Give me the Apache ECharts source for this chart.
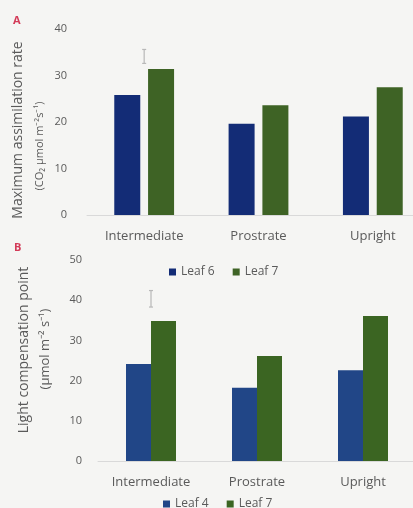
<!DOCTYPE html>
<html>
<head>
<meta charset="utf-8">
<script src="https://cdn.jsdelivr.net/npm/echarts@6/dist/echarts.min.js"></script>
<style>
  html, body { margin: 0; padding: 0; background: #f5f5f3; overflow: hidden; }
  #chart { width: 440px; height: 508px; }
</style>
</head>
<body>
<div id="chart"></div>
<script>
// Plant architecture classes shared by both panels
const categories = ['Intermediate', 'Prostrate', 'Upright'];

// Panel A: maximum assimilation rate (CO2 µmol m-2 s-1)
const assimLeaf6 = [25.8, 19.6, 21.2];
const assimLeaf7 = [31.4, 23.6, 27.5];
const assimErrLow = [32.6, null, null];
const assimErrHigh = [35.6, null, null];
const assimTicks = [0, 10, 20, 30, 40];

// Panel B: light compensation point (µmol m-2 s-1)
const lcpLeaf4 = [24.1, 18.2, 22.6];
const lcpLeaf7 = [34.8, 26.1, 36.1];
const lcpErrLow = [38.3, null, null];
const lcpErrHigh = [42.4, null, null];
const lcpTicks = [0, 10, 20, 30, 40, 50];

const textColor = '#5a5a5a';
const font = 'Open Sans';

function errorBar(xIndex, yIndex, lows, highs) {
  const data = categories.map((c, i) => [i, lows[i], highs[i]]).filter(d => d[1] != null);
  return {
    type: 'custom',
    xAxisIndex: xIndex,
    yAxisIndex: yIndex,
    silent: true,
    z: 5,
    data: data,
    renderItem: function (params, api) {
      const lo = api.coord([api.value(0), api.value(1)]);
      const hi = api.coord([api.value(0), api.value(2)]);
      const cap = 2;
      const style = { stroke: '#b8b8b8', lineWidth: 1.2 };
      return {
        type: 'group',
        children: [
          { type: 'line', shape: { x1: lo[0], y1: lo[1], x2: hi[0], y2: hi[1] }, style },
          { type: 'line', shape: { x1: lo[0] - cap, y1: lo[1], x2: lo[0] + cap, y2: lo[1] }, style },
          { type: 'line', shape: { x1: hi[0] - cap, y1: hi[1], x2: hi[0] + cap, y2: hi[1] }, style }
        ]
      };
    }
  };
}

const catAxis = (gridIndex) => ({
  type: 'category',
  gridIndex: gridIndex,
  data: categories,
  axisTick: { show: false },
  axisLine: { lineStyle: { color: '#d9d9d9', width: 1 } },
  axisLabel: { color: textColor, fontFamily: font, fontSize: 13, margin: 15, interval: 0 }
});

const valAxis = (gridIndex, ticks, margin) => ({
  type: 'value',
  gridIndex: gridIndex,
  min: ticks[0],
  max: ticks[ticks.length - 1],
  interval: ticks[1] - ticks[0],
  axisLine: { show: false },
  axisTick: { show: false },
  splitLine: { show: false },
  axisLabel: { color: textColor, fontFamily: font, fontSize: 11, margin: margin }
});

const chart = echarts.init(document.getElementById('chart'), null, { renderer: 'canvas' });
chart.setOption({
  backgroundColor: '#f5f5f3',
  animation: false,
  grid: [
    { left: 87, top: 29, width: 343, height: 186 },
    { left: 98, top: 260, width: 318, height: 201 }
  ],
  xAxis: [catAxis(0), catAxis(1)],
  yAxis: [valAxis(0, assimTicks, 20), valAxis(1, lcpTicks, 16)],
  legend: [
    {
      data: ['Leaf 6', 'Leaf 7'],
      left: 164, top: 261,
      icon: 'rect', itemWidth: 7, itemHeight: 7, itemGap: 18,
      textStyle: { color: textColor, fontFamily: font, fontSize: 12 }
    },
    {
      data: ['Leaf 4', 'Leaf 7 '],
      left: 158, top: 493,
      icon: 'rect', itemWidth: 7, itemHeight: 7, itemGap: 18,
      formatter: (n) => n.trim(),
      textStyle: { color: textColor, fontFamily: font, fontSize: 12 }
    }
  ],
  series: [
    { name: 'Leaf 6', type: 'bar', xAxisIndex: 0, yAxisIndex: 0, data: assimLeaf6,
      barWidth: 26, barGap: '30%', itemStyle: { color: '#132c76' } },
    { name: 'Leaf 7', type: 'bar', xAxisIndex: 0, yAxisIndex: 0, data: assimLeaf7,
      barWidth: 26, barGap: '30%', itemStyle: { color: '#3e6325' } },
    { name: 'Leaf 4', type: 'bar', xAxisIndex: 1, yAxisIndex: 1, data: lcpLeaf4,
      barWidth: 25, barGap: '0%', itemStyle: { color: '#214687' } },
    { name: 'Leaf 7 ', type: 'bar', xAxisIndex: 1, yAxisIndex: 1, data: lcpLeaf7,
      barWidth: 25, barGap: '0%', itemStyle: { color: '#3b6522' } },
    errorBar(0, 0, assimErrLow, assimErrHigh),
    errorBar(1, 1, lcpErrLow, lcpErrHigh)
  ],
  graphic: [
    { type: 'text', left: 13, top: 15,
      style: { text: 'A', fill: '#d33b58', font: 'bold 11px "Open Sans"' } },
    { type: 'text', left: 14, top: 242,
      style: { text: 'B', fill: '#d33b58', font: 'bold 11px "Open Sans"' } },
    { type: 'text', x: 18, y: 130, rotation: Math.PI / 2,
      style: { text: 'Maximum assimilation rate', fill: textColor,
               font: '14px "Open Sans"', textAlign: 'center', textVerticalAlign: 'middle' } },
    { type: 'text', x: 40, y: 146, rotation: Math.PI / 2,
      style: { text: '(CO\u2082 \u03bcmol m\u207b\u00b2s\u207b\u00b9)', fill: textColor,
               font: '11px "Open Sans"', textAlign: 'center', textVerticalAlign: 'middle' } },
    { type: 'text', x: 24, y: 350, rotation: Math.PI / 2,
      style: { text: 'Light compensation point', fill: textColor,
               font: '14px "Open Sans"', textAlign: 'center', textVerticalAlign: 'middle' } },
    { type: 'text', x: 45, y: 349, rotation: Math.PI / 2,
      style: { text: '(\u03bcmol m\u207b\u00b2 s\u207b\u00b9)', fill: textColor,
               font: '13px "Open Sans"', textAlign: 'center', textVerticalAlign: 'middle' } }
  ]
});
</script>
</body>
</html>
